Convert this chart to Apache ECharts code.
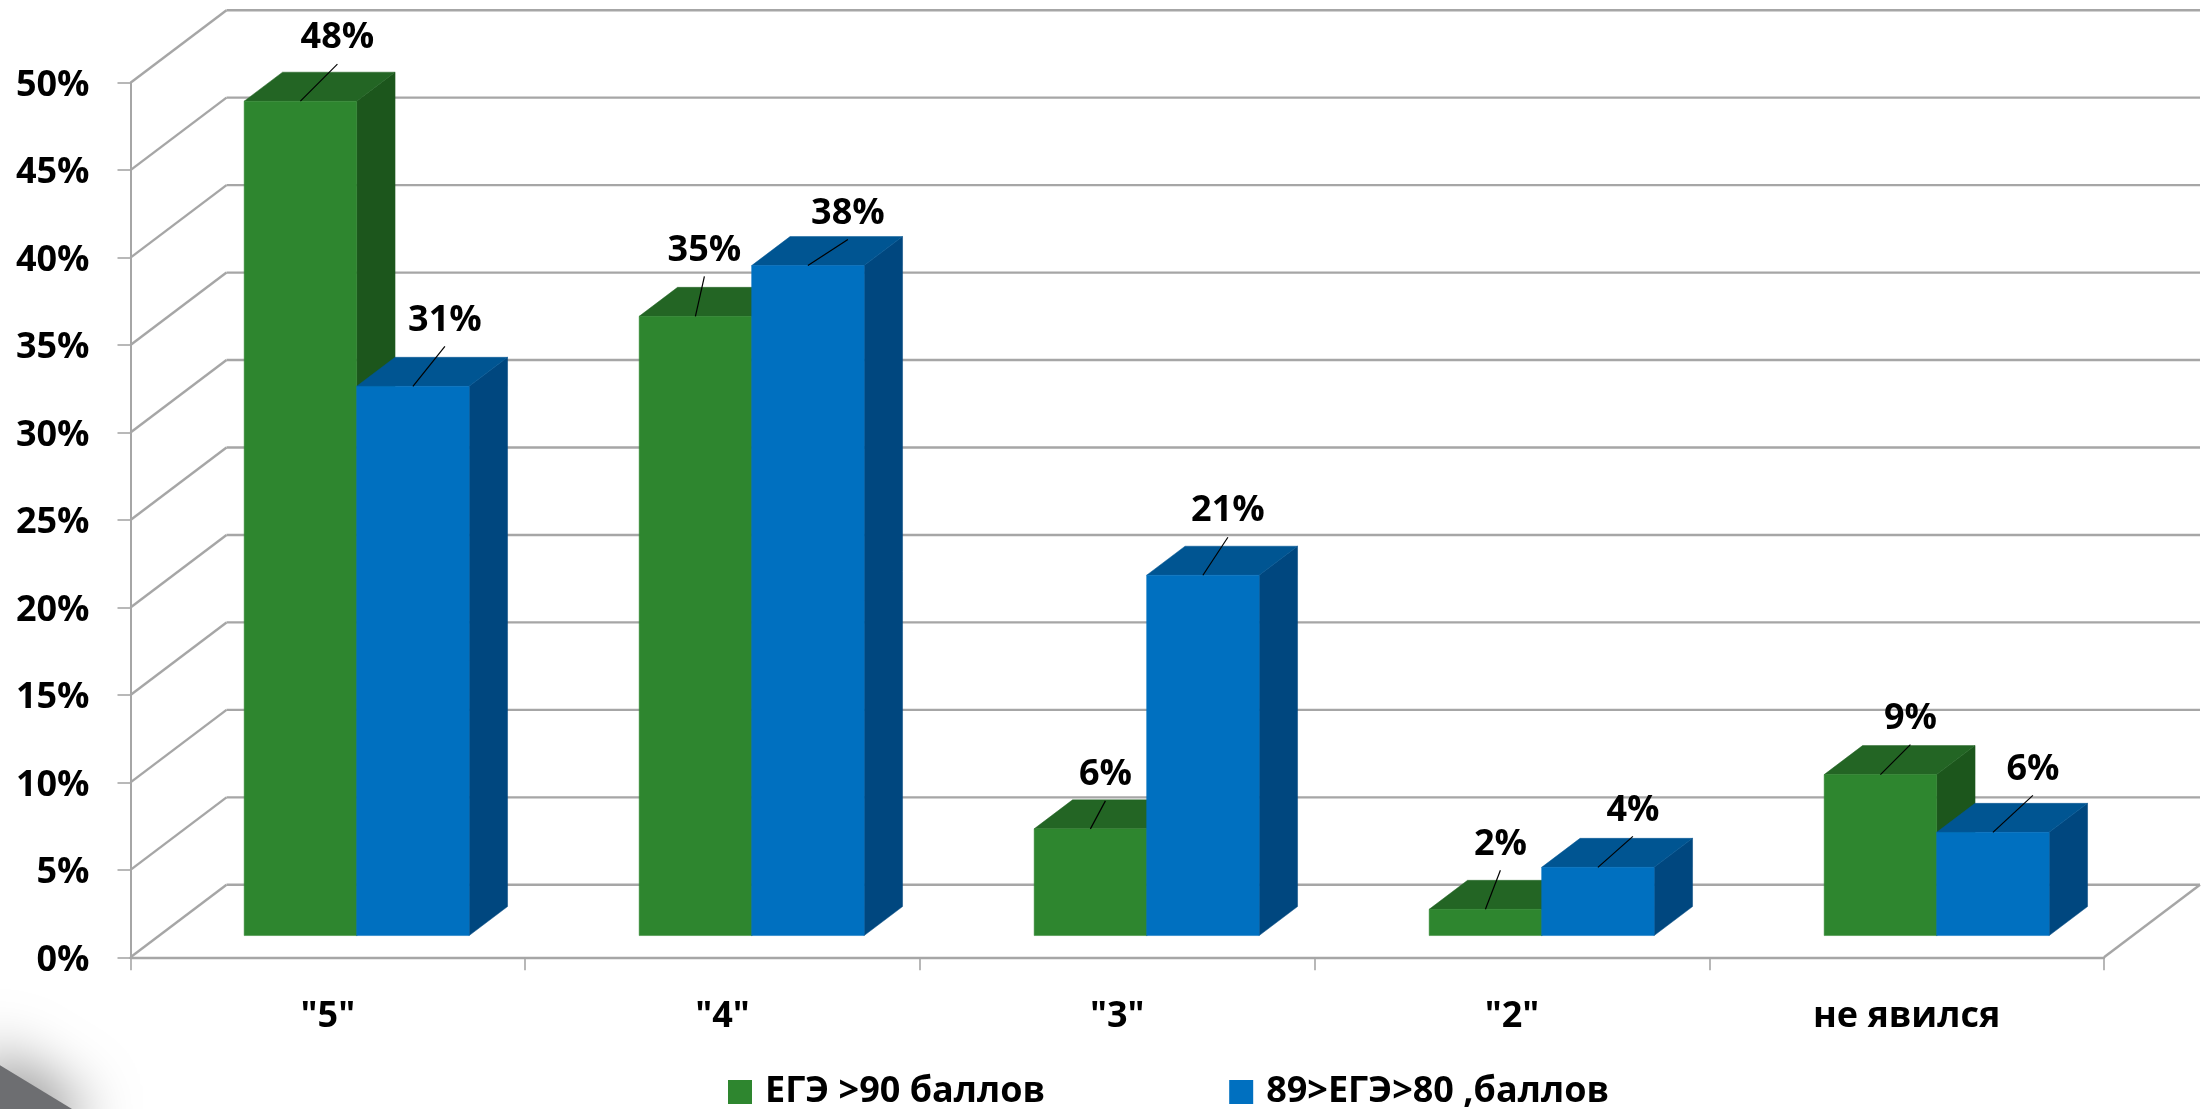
<!DOCTYPE html>
<html>
<head>
<meta charset="utf-8">
<style>html,body{margin:0;padding:0;background:#fff}#c{width:2206px;height:1109px}</style>
<script src="https://cdn.jsdelivr.net/npm/echarts@6/dist/echarts.min.js"></script>
</head>
<body>
<div id="c"></div>
<script>
const categories = ['"5"', '"4"', '"3"', '"2"', 'не явился'];
const seriesNames = ['ЕГЭ >90 баллов', '89>ЕГЭ>80 ,баллов'];
const greenValues = [47.7, 35.4, 6.1, 1.5, 9.2];
const blueValues = [31.4, 38.3, 20.6, 3.9, 5.9];
const yTicks = [0, 5, 10, 15, 20, 25, 30, 35, 40, 45, 50];

// hand-placed leader lines of the data labels: [dx, dy] from the bar's top edge
const greenLeaders = [[37, -37], [9, -40], [15, -28], [15, -39], [30, -30]];
const blueLeaders = [[32, -40], [40, -26], [25, -38], [35, -31], [40, -37]];

const FONT = '"Open Sans", "Noto Sans", sans-serif';
const FONT_SIZE = 36;
const GRID = { left: 130.5, right: 102, top: 82.7, bottom: 151.7 };
const WALL = { dx: 96, dy: -72.5 };
const BAR = { front: 0.3, depth: 0.4, widthRatio: 0.285 };
const gridColor = '#a6a6a6';
const palettes = [
  { front: '#2e862f', top: '#236524', side: '#1c561c' },
  { front: '#0070c0', top: '#005592', side: '#00477f' }
];

function poly(points, fill) {
  return { type: 'polygon', shape: { points }, style: { fill, stroke: fill, lineWidth: 0.5 } };
}

function barRender(seriesIndex, leaders) {
  return function (params, api) {
    const idx = api.value(0);
    const v = api.value(1);
    const size = api.size([1, 0])[0];
    const pal = palettes[seriesIndex];
    const w = size * BAR.widthRatio;
    const c = api.coord([idx, v]);
    const b = api.coord([idx, 0]);
    const ox = WALL.dx * BAR.front + idx * 0.3, oy = WALL.dy * BAR.front;
    const dx = WALL.dx * BAR.depth, dy = WALL.dy * BAR.depth;
    const x0 = c[0] + ox + (seriesIndex - 1) * w;
    const x1 = x0 + w;
    const yT = c[1] + oy, yB = b[1] + oy;
    const lead = leaders[idx];
    const sx = (x0 + x1) / 2, sy = yT;
    const ex = sx + lead[0], ey = sy + lead[1];
    return {
      type: 'group',
      children: [
        poly([[x1, yB], [x1 + dx, yB + dy], [x1 + dx, yT + dy], [x1, yT]], pal.side),
        poly([[x0, yT], [x0 + dx, yT + dy], [x1 + dx, yT + dy], [x1, yT]], pal.top),
        poly([[x0, yB], [x1, yB], [x1, yT], [x0, yT]], pal.front),
        { type: 'line', shape: { x1: sx, y1: sy, x2: ex, y2: ey }, style: { stroke: '#000', lineWidth: 1.2 } },
        {
          type: 'text',
          style: {
            x: ex, y: ey - 26, text: Math.round(v) + '%', fill: '#000',
            font: 'bold ' + FONT_SIZE + 'px ' + FONT, align: 'center', verticalAlign: 'middle'
          }
        }
      ]
    };
  };
}

function wallRender(params, api) {
  const v = api.value(0);
  const a = api.coord([0, v]);
  const lastX = api.coord([categories.length - 1, v])[0] + api.size([1, 0])[0] / 2;
  const fx = a[0] - api.size([1, 0])[0] / 2;
  const lineStyle = { stroke: gridColor, lineWidth: 2.4 };
  const children = [
    { type: 'line', shape: { x1: fx, y1: a[1], x2: fx + WALL.dx, y2: a[1] + WALL.dy }, style: lineStyle },
    { type: 'line', shape: { x1: fx + WALL.dx, y1: a[1] + WALL.dy, x2: lastX + WALL.dx, y2: a[1] + WALL.dy }, style: lineStyle }
  ];
  if (v === 0) {
    children.push({ type: 'line', shape: { x1: lastX, y1: a[1], x2: lastX + WALL.dx, y2: a[1] + WALL.dy }, style: lineStyle });
  }
  return { type: 'group', children };
}

const chart = echarts.init(document.getElementById('c'), null, { renderer: 'canvas' });
chart.setOption({
  animation: false,
  backgroundColor: '#fff',
  textStyle: { fontFamily: FONT },
  grid: GRID,
  graphic: [{
    type: 'polygon',
    z: -1,
    shape: { points: [[-20, 1053], [72, 1109], [72, 1140], [-20, 1140]] },
    style: { fill: '#6d6e71', shadowBlur: 60, shadowColor: 'rgba(0,0,0,0.5)', shadowOffsetX: 5, shadowOffsetY: -5 }
  }],
  legend: {
    data: seriesNames,
    left: 728,
    top: 1074,
    padding: 0,
    icon: 'rect',
    itemWidth: 24,
    itemHeight: 24,
    itemGap: 184,
    selectedMode: false,
    textStyle: { fontFamily: FONT, fontWeight: 'bold', fontSize: FONT_SIZE, color: '#000', padding: [0, 0, 0, 8] }
  },
  xAxis: {
    type: 'category',
    data: categories,
    axisLine: { show: true, lineStyle: { color: gridColor, width: 2.4 } },
    axisTick: { show: true, length: 13, lineStyle: { color: gridColor, width: 1.6 } },
    axisLabel: { margin: 41, color: '#000', fontFamily: FONT, fontWeight: 'bold', fontSize: FONT_SIZE, interval: 0 },
    splitLine: { show: false }
  },
  yAxis: {
    type: 'value',
    min: 0,
    max: 50,
    interval: 5,
    axisLine: { show: true, lineStyle: { color: gridColor, width: 2 } },
    axisTick: { show: true, length: 13, lineStyle: { color: gridColor, width: 1.6 } },
    axisLabel: { margin: 41, color: '#000', fontFamily: FONT, fontWeight: 'bold', fontSize: FONT_SIZE, formatter: '{value}%', verticalAlign: 'top', lineHeight: 6 },
    splitLine: { show: false }
  },
  series: [
    {
      type: 'custom', name: 'walls', silent: true, z: 1,
      renderItem: wallRender,
      encode: { y: 0 },
      data: yTicks.map(v => [v])
    },
    {
      type: 'custom', name: seriesNames[0], z: 2,
      itemStyle: { color: palettes[0].front },
      renderItem: barRender(0, greenLeaders),
      encode: { x: 0, y: 1 },
      data: greenValues.map((v, i) => [i, v])
    },
    {
      type: 'custom', name: seriesNames[1], z: 3,
      itemStyle: { color: palettes[1].front },
      renderItem: barRender(1, blueLeaders),
      encode: { x: 0, y: 1 },
      data: blueValues.map((v, i) => [i, v])
    }
  ]
});
</script>
</body>
</html>
